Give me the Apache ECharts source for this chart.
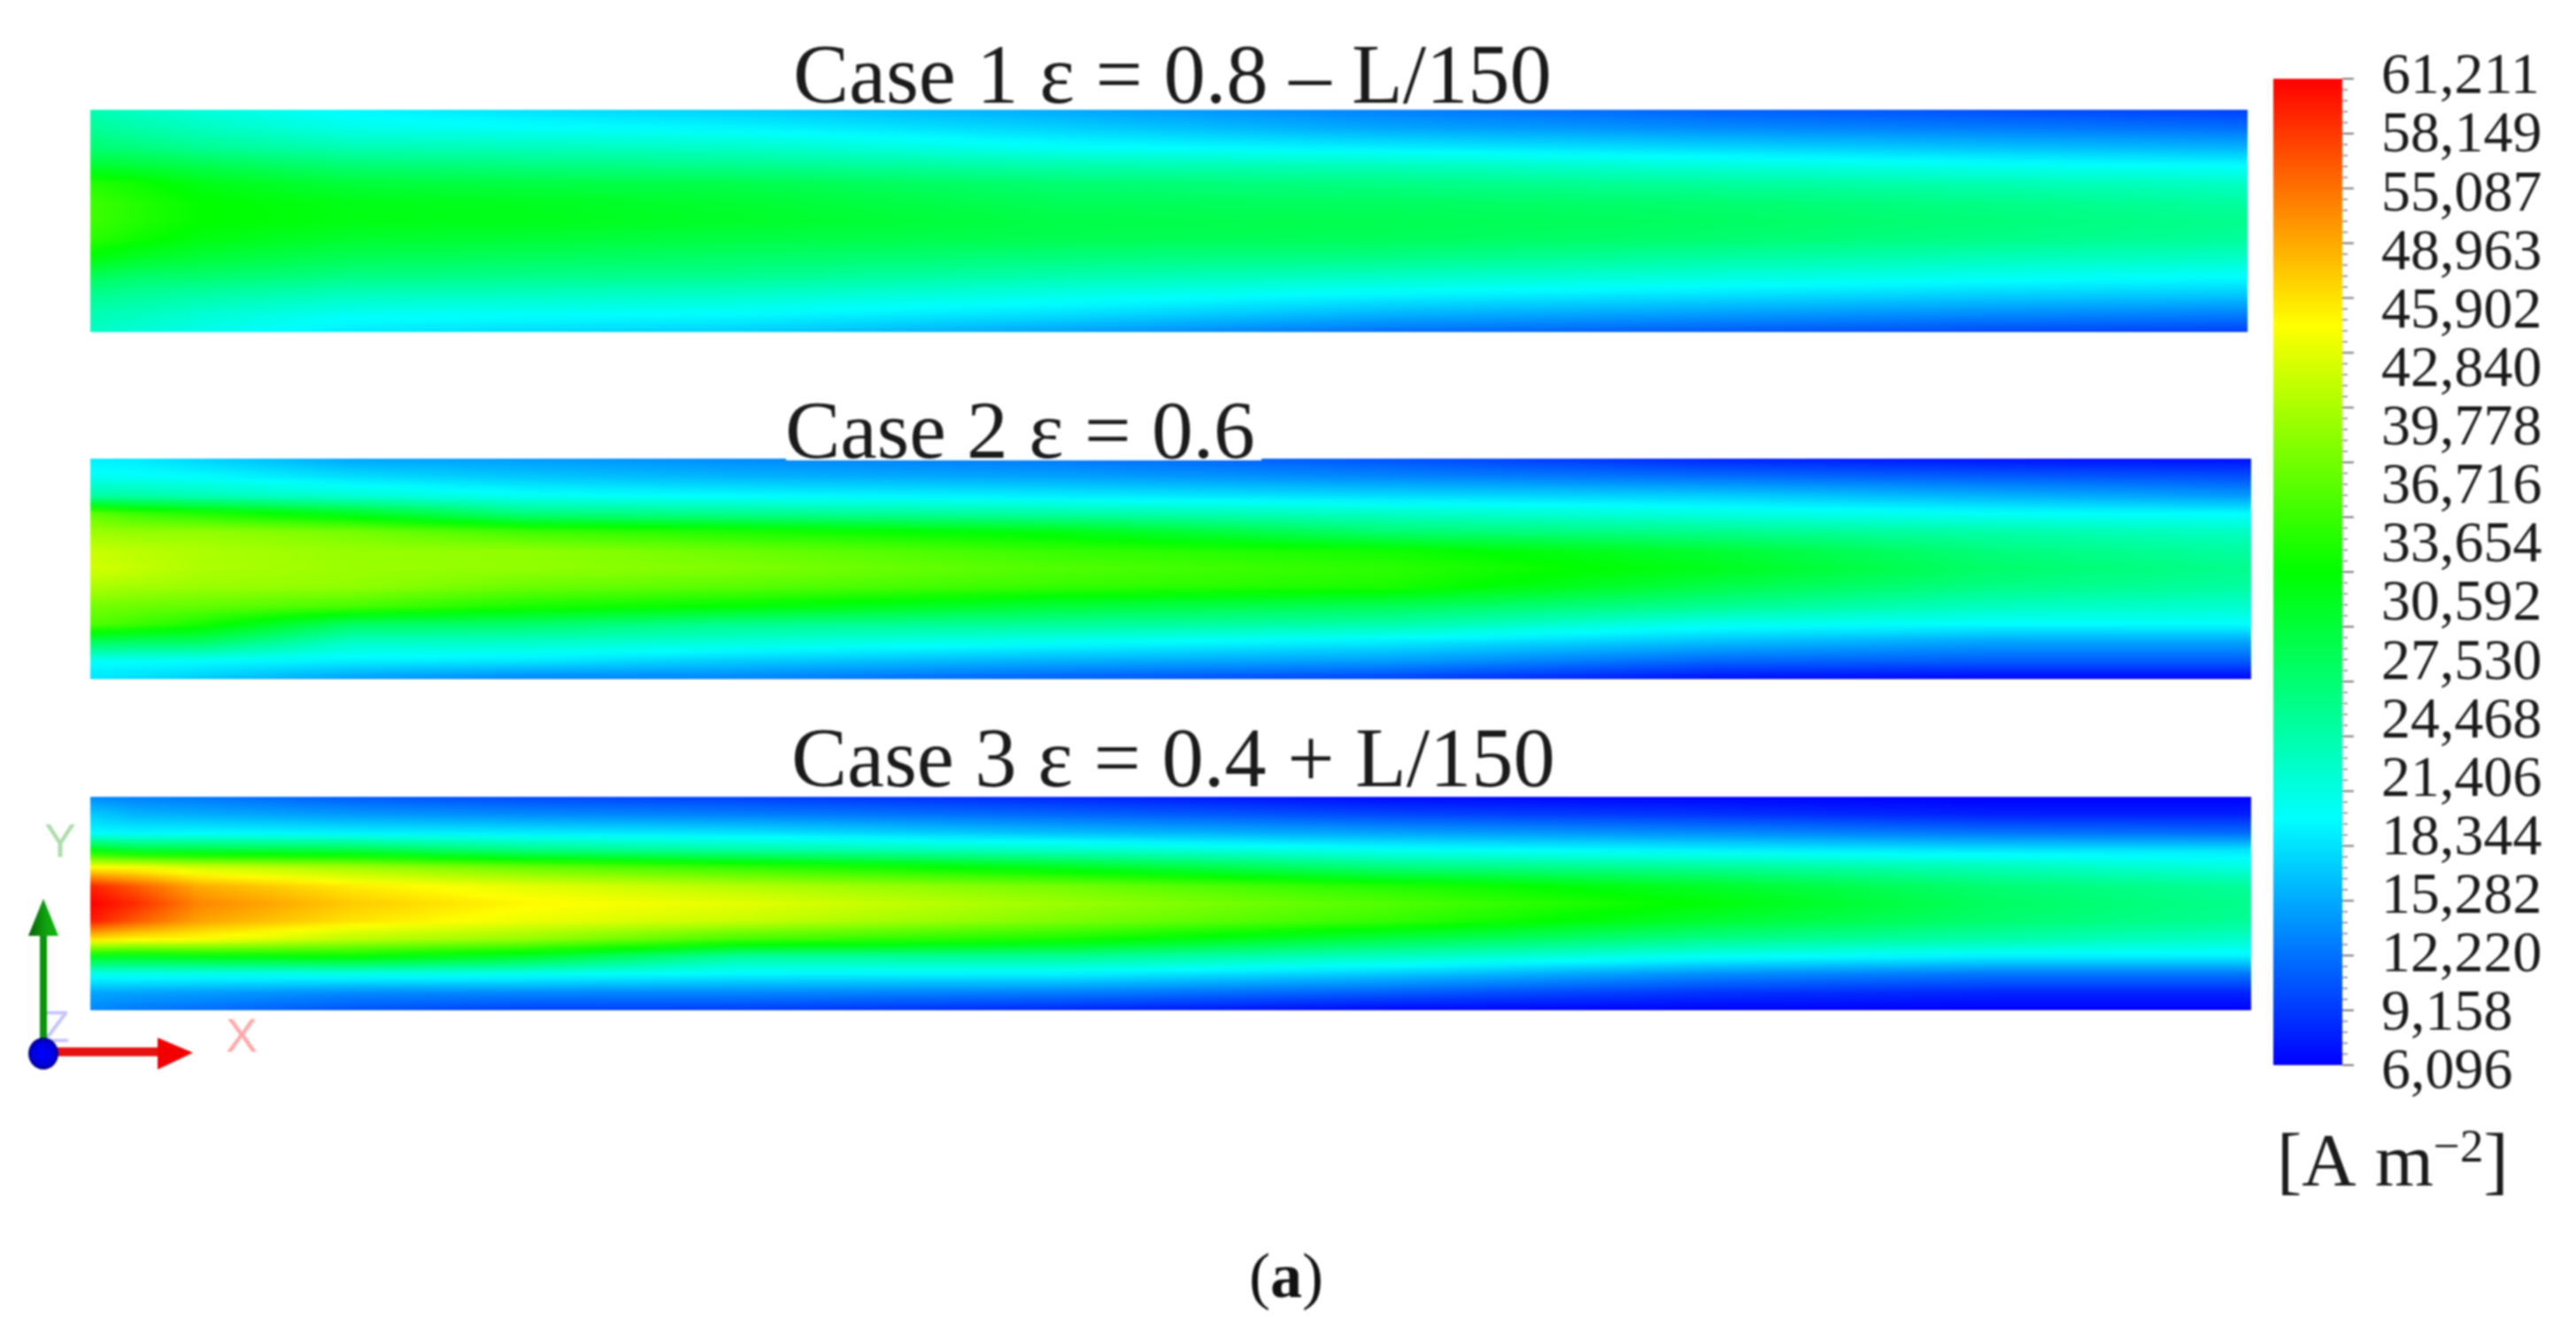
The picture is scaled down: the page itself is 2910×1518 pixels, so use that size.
<!DOCTYPE html>
<html>
<head>
<meta charset="utf-8">
<title>Current density contours</title>
<script src="https://cdn.jsdelivr.net/npm/echarts@6/dist/echarts.min.js"></script>
<style>
  html, body { margin: 0; background: #fff; }
  #main { width: 2910px; height: 1518px; }
  /* the source is an upscaled bitmap, everything in it is a bit soft */
  #main canvas { filter: blur(1px); }
</style>
</head>
<body>
<div id="main"></div>
<script>
// position along the channel, 0 = inlet, 1 = outlet
var xStations = [0, 0.02, 0.05, 0.12, 0.2, 0.3, 0.45, 0.6, 0.75, 0.88, 1];
// position across the channel, 0 = top edge, 1 = bottom edge
var yStations = [0, 0.08, 0.17, 0.25, 0.33, 0.42, 0.5, 0.58, 0.67, 0.75, 0.83, 0.92, 1];

// current density in A/m2, one row per x station
var case1Values = [
  [24000, 25500, 27500, 31000, 35500, 37000, 37000, 36000, 33000, 29000, 26000, 24000, 23000],
  [23000, 24500, 27000, 30500, 34500, 35500, 35500, 34500, 31500, 28000, 25500, 23500, 22000],
  [21800, 23300, 25800, 29500, 32500, 33800, 33800, 32800, 30500, 27800, 24800, 22300, 21000],
  [19500, 21000, 24000, 27500, 30500, 32500, 32700, 31200, 29000, 26500, 23500, 20500, 18800],
  [18300, 20200, 23500, 26800, 30000, 32000, 32300, 30800, 28500, 26200, 23200, 20200, 18000],
  [17300, 19400, 22800, 26000, 29500, 31000, 31500, 30000, 28000, 25800, 22800, 19800, 17300],
  [15200, 17300, 20300, 24300, 27500, 29000, 29800, 29300, 26800, 24200, 21200, 18200, 14800],
  [13000, 15000, 19000, 23500, 26500, 28500, 29300, 28800, 26300, 23000, 19600, 15800, 12000],
  [11300, 13600, 17700, 21800, 25200, 27700, 28500, 27700, 24800, 21800, 18500, 14600, 10900],
  [10300, 12700, 16600, 20500, 24000, 26400, 27200, 26400, 23500, 20700, 17500, 13600, 10000],
  [9500, 12000, 15800, 19800, 23000, 25000, 26000, 25300, 22800, 20000, 17000, 13000, 9500]
];
var case2Values = [
  [19000, 20500, 25000, 39000, 42000, 44500, 45000, 43000, 40000, 38000, 29000, 20000, 18500],
  [18800, 20200, 24800, 37000, 41500, 43800, 44300, 42500, 39500, 37000, 28500, 20000, 18000],
  [17500, 19800, 24000, 35500, 41500, 43000, 43000, 42000, 39000, 35000, 28500, 19800, 17000],
  [15000, 18000, 22300, 32000, 40000, 41800, 42000, 41500, 37500, 28500, 23000, 19000, 14500],
  [14500, 16800, 20500, 27000, 37000, 41500, 41500, 39500, 35000, 28000, 23000, 18500, 13000],
  [13500, 15800, 19800, 26000, 35000, 39500, 40500, 38500, 33500, 26000, 22000, 17000, 13000],
  [12500, 14800, 19000, 24800, 32500, 36500, 38000, 36500, 30500, 25500, 20500, 15500, 11000],
  [10500, 13300, 18000, 23000, 27500, 34500, 36000, 35000, 29000, 24500, 19000, 14500, 9500],
  [8000, 12000, 17300, 21500, 26000, 31000, 32200, 29800, 25800, 20800, 16500, 11500, 6800],
  [7000, 11000, 15800, 20300, 24500, 27000, 28000, 26500, 23300, 19900, 15000, 11000, 6200],
  [6800, 10300, 14500, 19800, 23000, 25000, 26000, 25000, 22500, 20000, 15000, 11000, 6200]
];
var case3Values = [
  [13500, 17000, 19800, 33000, 47500, 59500, 61200, 60000, 48500, 32000, 20800, 15000, 13500],
  [13000, 15800, 19500, 31000, 47000, 56500, 59000, 56500, 47500, 31500, 21000, 14800, 12500],
  [12500, 15300, 19800, 30500, 45000, 52000, 54000, 52500, 47000, 32500, 20800, 14500, 12000],
  [11000, 14300, 19300, 30000, 42500, 48500, 50300, 49000, 43500, 33500, 21000, 13500, 10500],
  [10000, 13500, 19000, 26800, 39500, 46000, 47800, 46500, 41500, 31000, 20800, 13300, 9500],
  [9500, 12800, 18500, 25000, 36500, 43500, 46000, 44500, 37000, 25000, 19500, 13300, 9300],
  [8000, 11500, 16500, 23000, 32000, 40000, 42000, 40500, 34500, 25500, 19300, 12800, 8000],
  [6500, 9800, 15000, 20500, 27000, 35500, 38000, 36500, 29500, 23000, 17000, 11000, 6300],
  [6200, 8800, 13800, 19300, 25500, 31500, 33200, 31000, 26000, 20300, 13800, 8800, 6100],
  [6100, 7700, 12500, 18500, 23800, 27500, 28500, 27700, 24300, 19000, 12500, 8000, 6100],
  [6100, 7700, 12000, 18500, 21500, 25300, 26000, 25500, 22500, 19000, 12500, 8000, 6100]
];

// colour legend
var scaleMin = 6096;
var scaleMax = 61211;
var legendLabels = ['61,211', '58,149', '55,087', '48,963', '45,902', '42,840', '39,778', '36,716', '33,654',
  '30,592', '27,530', '24,468', '21,406', '18,344', '15,282', '12,220', '9,158', '6,096'];
var legendTicks = [6096, 9158, 12220, 15282, 18344, 21406, 24468, 27530, 30592, 33654, 36716, 39778, 42840, 45902, 48963, 52025, 55087, 58149, 61211];
var rampValues = [6096, 19875, 33654, 47432, 61211];
var rampColors = [[0, 0, 255], [0, 255, 255], [0, 255, 0], [255, 255, 0], [255, 0, 0]];

var caseTitles = ['Case 1 ε = 0.8 – L/150', 'Case 2 ε = 0.6', 'Case 3 ε = 0.4 + L/150'];

var SERIF = '"Liberation Serif", serif';

function colorOf(v) {
  var i = 0;
  while (i < rampValues.length - 2 && v > rampValues[i + 1]) i++;
  var t = (v - rampValues[i]) / (rampValues[i + 1] - rampValues[i]);
  t = Math.max(0, Math.min(1, t));
  var a = rampColors[i], b = rampColors[i + 1];
  return 'rgb(' + Math.round(a[0] + (b[0] - a[0]) * t) + ',' + Math.round(a[1] + (b[1] - a[1]) * t) + ',' + Math.round(a[2] + (b[2] - a[2]) * t) + ')';
}

// one vertical gradient for a column of values, extra stops so the ramp knots stay sharp
function columnGradient(colA, colB, t) {
  var stops = [];
  for (var r = 0; r < yStations.length - 1; r++) {
    var v0 = colA[r] + (colB[r] - colA[r]) * t;
    var v1 = colA[r + 1] + (colB[r + 1] - colA[r + 1]) * t;
    for (var s = 0; s < 4; s++) {
      var f = s / 4;
      stops.push({ offset: yStations[r] + (yStations[r + 1] - yStations[r]) * f, color: colorOf(v0 + (v1 - v0) * f) });
    }
  }
  var last = yStations.length - 1;
  stops.push({ offset: 1, color: colorOf(colA[last] + (colB[last] - colA[last]) * t) });
  return new echarts.graphic.LinearGradient(0, 0, 0, 1, stops);
}

function fieldRenderer(values) {
  return function (params, api) {
    var i = api.value(2);
    var p0 = api.coord([api.value(0), 0]);
    var p1 = api.coord([api.value(1), 1]);
    var x0 = Math.round(p0[0]), x1 = Math.round(p1[0]);
    var n = Math.max(1, Math.ceil((x1 - x0) / 6));
    var children = [];
    for (var k = 0; k < n; k++) {
      var xa = x0 + Math.round((x1 - x0) * k / n);
      var xb = x0 + Math.round((x1 - x0) * (k + 1) / n);
      children.push({
        type: 'rect',
        shape: { x: xa, y: p0[1], width: xb - xa + (i < xStations.length - 2 || k < n - 1 ? 1 : 0), height: p1[1] - p0[1] },
        style: { fill: columnGradient(values[i], values[i + 1], (k + 0.5) / n) }
      });
    }
    return { type: 'group', children: children };
  };
}

var intervals = xStations.slice(0, -1).map(function (x, i) { return [x, xStations[i + 1], i]; });
var bandGrids = [
  { left: 102, top: 124, width: 2437, height: 251 },
  { left: 102, top: 518, width: 2441, height: 249 },
  { left: 102, top: 900, width: 2441, height: 241 }
];
var bandValues = [case1Values, case2Values, case3Values];

var grids = bandGrids.slice();
var xAxes = [], yAxes = [], series = [];
bandGrids.forEach(function (g, n) {
  xAxes.push({ gridIndex: n, type: 'value', min: 0, max: 1, show: false });
  yAxes.push({ gridIndex: n, type: 'value', min: 0, max: 1, inverse: true, show: false });
  series.push({
    type: 'custom',
    name: caseTitles[n],
    xAxisIndex: n,
    yAxisIndex: n,
    coordinateSystem: 'cartesian2d',
    clip: false,
    silent: true,
    renderItem: fieldRenderer(bandValues[n]),
    encode: { x: [0, 1] },
    data: intervals
  });
});

// colour bar, its ticks and its labels
grids.push({ left: 2568, top: 89, width: 78, height: 1114 });
xAxes.push({ gridIndex: 3, type: 'value', min: 0, max: 1, show: false });
yAxes.push({ gridIndex: 3, type: 'value', min: scaleMin, max: scaleMax, show: false });
series.push({
  type: 'custom',
  name: 'legend',
  xAxisIndex: 3,
  yAxisIndex: 3,
  silent: true,
  renderItem: function (params, api) {
    var a = api.coord([0, api.value(1)]);
    var b = api.coord([1, api.value(0)]);
    return {
      type: 'rect',
      shape: { x: a[0], y: a[1], width: b[0] - a[0], height: b[1] - a[1] },
      style: {
        fill: new echarts.graphic.LinearGradient(0, 1, 0, 0, rampValues.map(function (v) {
          return { offset: (v - scaleMin) / (scaleMax - scaleMin), color: colorOf(v) };
        }))
      }
    };
  },
  data: [[scaleMin, scaleMax]]
});

var tickMarks = [];
legendTicks.forEach(function (t, i) {
  tickMarks.push([t, 13]);
  if (i < legendTicks.length - 1) {
    for (var m = 1; m < 5; m++) tickMarks.push([t + (legendTicks[i + 1] - t) * m / 5, 6]);
  }
});
series.push({
  type: 'custom',
  name: 'legend ticks',
  xAxisIndex: 3,
  yAxisIndex: 3,
  silent: true,
  clip: false,
  encode: { y: 0 },
  renderItem: function (params, api) {
    var p = api.coord([1, api.value(0)]);
    return {
      type: 'line',
      shape: { x1: p[0], y1: p[1], x2: p[0] + api.value(1), y2: p[1] },
      style: { stroke: api.value(1) > 6 ? '#777' : '#999', lineWidth: 2 }
    };
  },
  data: tickMarks
});

grids.push({ left: 2690, top: 88, width: 200, height: 1124 });
xAxes.push({ gridIndex: 4, type: 'value', min: 0, max: 1, show: false });
yAxes.push({
  gridIndex: 4, type: 'category', inverse: true, boundaryGap: false, data: legendLabels,
  axisLine: { show: false }, axisTick: { show: false }, splitLine: { show: false },
  axisLabel: { inside: true, margin: 0, align: 'left', interval: 0, fontFamily: SERIF, fontSize: 66, color: '#1a1a1a' }
});

var textStyle = { fontFamily: SERIF, fontWeight: 'normal', fontSize: 94.5, color: '#1a1a1a' };

var option = {
  backgroundColor: '#fff',
  animation: false,
  title: [
    { text: caseTitles[0], left: 896, top: 44, padding: 0, textStyle: textStyle },
    { text: caseTitles[1], left: 887, top: 445, padding: 0, textStyle: Object.assign({}, textStyle, { fontSize: 93.5 }) },
    { text: caseTitles[2], left: 894, top: 816, padding: 0, textStyle: textStyle },
    {
      text: '{n|[A m}{s|−2}{n|]}', left: 2572, top: 1272, padding: 0,
      textStyle: {
        fontWeight: 'normal',
        rich: {
          n: { fontFamily: SERIF, fontWeight: 'normal', fontSize: 85, color: '#1a1a1a', lineHeight: 90 },
          s: { fontFamily: SERIF, fontWeight: 'normal', fontSize: 53, color: '#1a1a1a', lineHeight: 90, verticalAlign: 'top', padding: [0, 0, 22, 0] }
        }
      }
    },
    {
      text: '{p|(}{b|a}{p|)}', left: 1453, top: 1446, textAlign: 'center', textVerticalAlign: 'middle', padding: 0,
      textStyle: {
        fontWeight: 'normal',
        rich: {
          p: { fontFamily: SERIF, fontWeight: 'normal', fontSize: 72, color: '#111' },
          b: { fontFamily: SERIF, fontWeight: 'bold', fontSize: 72, color: '#111' }
        }
      }
    }
  ],
  grid: grids,
  xAxis: xAxes,
  yAxis: yAxes,
  series: series,
  // coordinate triad of the CFD viewer
  graphic: [
    { type: 'rect', z: 5, shape: { x: 888, y: 514, width: 537, height: 6 }, style: { fill: '#fff' } },
    { type: 'text', left: 50, top: 926, style: { text: 'Y', font: '54px "Liberation Sans"', fill: '#aedcae' } },
    { type: 'text', left: 48, top: 1138, style: { text: 'Z', font: '50px "Liberation Sans"', fill: '#c4c4ff' } },
    { type: 'text', left: 255, top: 1146, style: { text: 'X', font: '54px "Liberation Sans"', fill: '#ffa8a8' } },
    { type: 'rect', shape: { x: 45, y: 1055, width: 8, height: 125 }, style: { fill: '#0b930b' } },
    {
      type: 'polygon', shape: { points: [[32, 1057], [49, 1015], [66, 1057]] },
      style: { fill: new echarts.graphic.LinearGradient(0, 0, 1, 0, [{ offset: 0, color: '#085c08' }, { offset: 0.55, color: '#0ea00e' }, { offset: 1, color: '#12b812' }]) }
    },
    { type: 'rect', shape: { x: 60, y: 1183, width: 120, height: 10 }, style: { fill: '#e51212' } },
    { type: 'polygon', shape: { points: [[178, 1172], [218, 1189], [178, 1208]] }, style: { fill: '#f20000' } },
    {
      type: 'ellipse', shape: { cx: 49, cy: 1190, rx: 17, ry: 18 },
      style: { fill: new echarts.graphic.RadialGradient(0.5, 0.5, 0.6, [{ offset: 0, color: '#0000ff' }, { offset: 0.6, color: '#0000e0' }, { offset: 1, color: '#00005c' }]) }
    }
  ]
};

var myChart = echarts.init(document.getElementById('main'));
myChart.setOption(option);
</script>
</body>
</html>
